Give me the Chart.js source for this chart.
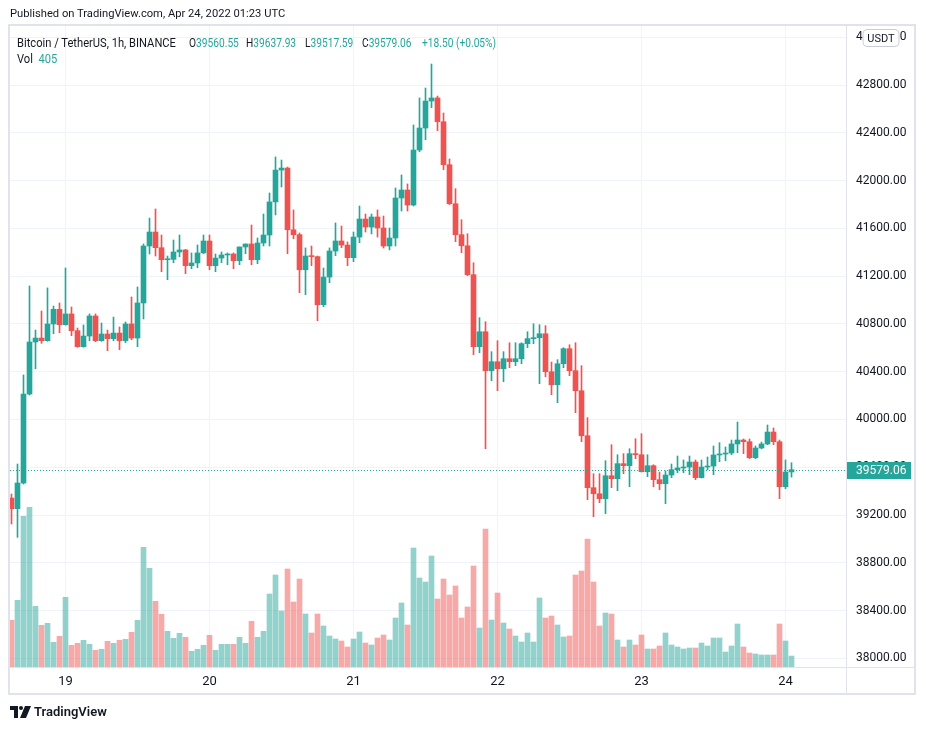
<!DOCTYPE html>
<html><head><meta charset="utf-8">
<script src="https://cdn.jsdelivr.net/npm/chart.js@4.4.0/dist/chart.umd.min.js"></script>
<style>
html,body{margin:0;padding:0;background:#fff;width:926px;height:730px;overflow:hidden;font-family:Roboto,"Liberation Sans",sans-serif;}
canvas{position:absolute;left:0;top:0;}
.t{position:absolute;white-space:nowrap;color:#131722;line-height:1;}
.lg{font-size:12px;transform-origin:0 0;transform:scaleX(0.85);top:37px;}
.g{color:#26a69a;}
</style></head>
<body>
<canvas id="c" width="926" height="730"></canvas>
<div class="t" style="left:10px;top:8px;font-size:11.2px;">Published on TradingView.com, Apr 24, 2022 01:23 UTC</div>
<div class="t lg" style="left:17px;transform:scaleX(0.93);">Bitcoin / TetherUS, 1h, BINANCE</div>
<div class="t lg" id="lo" style="left:189px;"></div>
<div class="t lg" id="lh" style="left:246px;"></div>
<div class="t lg" id="ll" style="left:305px;"></div>
<div class="t lg" id="lc" style="left:362px;"></div>
<div class="t lg g" id="lchg" style="left:422px;"></div>
<div class="t lg" id="lv" style="left:17px;top:53px;transform:scaleX(0.93);"></div>
<div class="t" style="left:10px;top:705px;font-size:13px;font-weight:600;display:flex;align-items:center;">
<svg width="21" height="12" viewBox="0 0 21 12" style="margin-right:3px"><path d="M0 0h8v12H4V4H0z" fill="#131722"/><circle cx="11" cy="2" r="2" fill="#131722"/><path d="M15 0h6l-5 12h-6z" fill="#131722"/></svg>TradingView</div>
<script>
// candle index 0 = Apr 18 15:00 UTC, hourly
const opens = [39342,39253,39468,40213,40649,40682,40660,40800,40923,40794,
40884,40744,40610,40699,40867,40660,40716,40677,40724,40660,
40800,40682,40976,41453,41570,41439,41338,41341,41403,41420,
41288,41311,41395,41495,41288,41352,41378,41386,41330,41445,
41470,41338,41478,41545,41822,42089,42106,41589,41548,41254,
41369,41364,40961,41193,41411,41495,41461,41355,41528,41679,
41612,41696,41604,41453,41520,41855,41922,41796,42257,42441,
42667,42693,42494,42134,41807,41548,41455,41213,40610,40735,
40409,40484,40425,40509,40484,40509,40635,40677,40685,40718,
40400,40291,40467,40593,40409,40241,39864,39429,39378,39337,
39529,39504,39630,39613,39714,39705,39563,39613,39496,39462,
39535,39580,39594,39602,39644,39513,39602,39610,39703,39711,
39719,39795,39828,39814,39680,39761,39795,39895,39814,39437,
39560.55];
const highs = [39376,39627,40373,41118,40749,40909,41102,40950,40976,41269,
40942,40766,40792,40884,40884,40808,40749,40858,40775,40817,
41026,41110,41470,41687,41763,41545,41369,41503,41545,41425,
41395,41462,41545,41545,41386,41403,41395,41395,41445,41470,
41629,41520,41721,41897,42199,42173,42114,41755,41562,41437,
41453,41369,41269,41437,41646,41620,41487,41570,41788,41721,
41721,41755,41704,41604,41939,42048,41973,42467,42693,42776,
42977,42709,42567,42182,41933,41673,41556,41313,40853,40819,
40568,40660,40568,40643,40643,40643,40735,40802,40794,40786,
40481,40501,40601,40626,40643,40451,40015,39546,39546,39655,
39789,39705,39714,39755,39839,39881,39705,39621,39560,39569,
39627,39694,39661,39694,39661,39661,39686,39778,39806,39770,
39828,39979,39837,39837,39778,39811,39954,39929,39828,39661,
39637.93];
const lows = [39125,39013,39460,40205,40425,40638,40655,40718,40727,40790,
40702,40605,40605,40660,40652,40655,40576,40660,40584,40643,
40668,40610,40842,41386,41369,41238,41171,41313,41363,41221,
41263,41271,41390,41254,41238,41313,41296,41263,41296,41389,
41296,41305,41453,41453,41713,41947,41389,41514,41062,41045,
41288,40827,40945,41146,41372,41439,41288,41322,41481,41570,
41554,41528,41436,41420,41453,41746,41746,41788,42243,42343,
42611,42419,42092,41800,41489,41397,41205,40543,40559,39755,
40325,40241,40316,40434,40451,40467,40601,40635,40300,40358,
40208,40141,40434,40367,40057,39814,39328,39186,39303,39211,
39429,39404,39546,39437,39672,39560,39521,39437,39412,39295,
39513,39554,39554,39538,39496,39510,39580,39538,39647,39655,
39705,39722,39714,39672,39672,39755,39789,39789,39337,39420,
39517.59];
const closes = [39253,39468,40213,40649,40682,40660,40800,40923,40794,40884,
40744,40610,40699,40867,40660,40716,40677,40724,40660,40800,
40682,40976,41453,41570,41439,41338,41341,41403,41420,41288,
41311,41395,41495,41288,41352,41378,41386,41330,41445,41470,
41338,41478,41545,41822,42089,42106,41589,41548,41254,41369,
41364,40961,41193,41411,41495,41461,41355,41528,41679,41612,
41696,41604,41453,41520,41855,41922,41796,42257,42441,42667,
42693,42494,42134,41807,41548,41455,41213,40610,40735,40409,
40484,40425,40509,40484,40509,40635,40677,40685,40718,40400,
40291,40467,40593,40409,40241,39864,39429,39378,39337,39529,
39504,39630,39613,39714,39705,39563,39613,39496,39462,39535,
39580,39594,39602,39644,39513,39602,39610,39703,39711,39719,
39795,39828,39814,39680,39761,39795,39895,39814,39437,39560.55,
39579.06];
const volumes = [1728,2468,5576,5909,2246,1543,1617,914,1136,2579,
803,877,988,840,618,655,951,877,988,1025,
1284,1728,4429,3652,2431,1950,1321,1062,1247,1099,
581,655,803,1173,618,840,840,840,1099,877,
1691,1099,1321,2701,3404,2072,3626,2405,3256,1961,
1258,1961,1517,1147,1036,962,740,1036,1295,888,
814,1073,1184,999,1813,2368,1554,4403,3293,3145,
4107,2516,3256,2664,2997,1813,2220,3737,1443,5106,
1739,2738,1628,1406,1147,925,1258,925,2553,1813,
1887,1554,1110,1147,3404,3552,4736,3145,1517,1998,
1961,999,740,999,814,1184,666,666,777,1258,
814,740,666,703,703,888,777,1073,1073,555,
777,1591,740,518,481,444,444,444,1591,962,
405];
const lastChangeText = '+18.50 (+0.05%)';
const dayLabels = ['19','20','21','22','23','24'];
const dayTickIndex = [9,33,57,81,105,129];
const priceTicks = [38000,38400,38800,39200,39600,40000,40400,40800,41200,41600,42000,42400,42800,43200];

const UP = '#26a69a', DOWN = '#ef5350';
const UPV = 'rgba(38,166,154,0.5)', DOWNV = 'rgba(239,83,80,0.5)';
const isUp = i => closes[i] >= opens[i];
const N = closes.length;
const last = N - 1;

// legend text
const fmt = v => v.toFixed(2);
document.getElementById('lo').innerHTML = 'O<span class="g">' + fmt(opens[last]) + '</span>';
document.getElementById('lh').innerHTML = 'H<span class="g">' + fmt(highs[last]) + '</span>';
document.getElementById('ll').innerHTML = 'L<span class="g">' + fmt(lows[last]) + '</span>';
document.getElementById('lc').innerHTML = 'C<span class="g">' + fmt(closes[last]) + '</span>';
document.getElementById('lchg').textContent = lastChangeText;
document.getElementById('lv').innerHTML = 'Vol <span class="g" style="margin-left:3px">' + volumes[last] + '</span>';

const wickData = closes.map((c, i) => ({x: i, y: [lows[i], highs[i]]}));
const bodyData = closes.map((c, i) => ({x: i, y: [opens[i], c]}));
const volData = volumes.map((v, i) => ({x: i, y: v}));

const framePlugin = {
  id: 'frame',
  afterDatasetsDraw(chart) {
    const ctx = chart.ctx, a = chart.chartArea, y = chart.scales.y;
    const py = Math.round(y.getPixelForValue(closes[last])) + 0.5;
    ctx.save();
    ctx.strokeStyle = UP; ctx.lineWidth = 1; ctx.setLineDash([1, 2]);
    ctx.beginPath(); ctx.moveTo(a.left, py); ctx.lineTo(a.right, py); ctx.stroke();
    ctx.restore();
  },
  afterDraw(chart) {
    const ctx = chart.ctx, a = chart.chartArea, y = chart.scales.y;
    ctx.save();
    ctx.strokeStyle = '#e0e3eb';
    ctx.lineWidth = 1;
    ctx.beginPath();
    ctx.moveTo(a.right + 0.5, 25); ctx.lineTo(a.right + 0.5, 694);
    ctx.moveTo(9, a.bottom + 0.5); ctx.lineTo(915, a.bottom + 0.5);
    ctx.stroke();
    ctx.lineWidth = 2;
    ctx.strokeRect(9, 25, 906, 669);
    // price badge
    const py = Math.round(y.getPixelForValue(closes[last]));
    ctx.fillStyle = UP;
    ctx.fillRect(a.right + 1, py - 8, 64, 17);
    ctx.fillStyle = '#ffffff';
    ctx.font = '12px Roboto';
    ctx.textBaseline = 'middle';
    ctx.textAlign = 'left';
    ctx.fillText(fmt(closes[last]), 856, py + 1);
    // USDT badge over the top price label
    const ty = y.getPixelForValue(priceTicks[priceTicks.length - 1]);
    const bx = 863, bw = 36, bh = 17, by = Math.round(ty - bh / 2) + 0.5, r = 4;
    ctx.beginPath();
    ctx.moveTo(bx + r, by); ctx.arcTo(bx + bw, by, bx + bw, by + bh, r);
    ctx.arcTo(bx + bw, by + bh, bx, by + bh, r); ctx.arcTo(bx, by + bh, bx, by, r);
    ctx.arcTo(bx, by, bx + bw, by, r); ctx.closePath();
    ctx.fillStyle = '#ffffff'; ctx.fill();
    ctx.strokeStyle = '#c9ccd4'; ctx.lineWidth = 1; ctx.stroke();
    ctx.fillStyle = '#131722'; ctx.font = '11px Roboto'; ctx.textAlign = 'center';
    ctx.fillText('USDT', bx + bw / 2, by + bh / 2 + 1);
    ctx.restore();
  }
};

new Chart(document.getElementById('c'), {
  type: 'bar',
  data: {
    datasets: [
      { data: volData, yAxisID: 'v', order: 3, barThickness: 5, grouped: false,
        backgroundColor: c => isUp(c.dataIndex) ? UPV : DOWNV, borderWidth: 0 },
      { data: wickData, yAxisID: 'y', order: 2, barThickness: 1, grouped: false,
        backgroundColor: c => isUp(c.dataIndex) ? UP : DOWN, borderWidth: 0 },
      { data: bodyData, yAxisID: 'y', order: 1, barThickness: 5, grouped: false, minBarLength: 1,
        backgroundColor: c => isUp(c.dataIndex) ? UP : DOWN, borderWidth: 0 }
    ]
  },
  options: {
    responsive: false,
    animation: false,
    devicePixelRatio: 1,
    layout: { padding: { left: 10, top: 25, right: 11, bottom: 36 } },
    plugins: { legend: { display: false }, tooltip: { enabled: false } },
    scales: {
      x: {
        type: 'linear', offset: false,
        min: -0.25, max: -0.25 + 836 / 6,
        grid: { color: '#f0f3fa', drawTicks: false, offset: false },
        border: { display: false },
        afterBuildTicks: s => { s.ticks = dayTickIndex.map(v => ({ value: v })); },
        afterFit: s => { s.height = 27; },
        ticks: { autoSkip: false, maxRotation: 0, padding: 7, color: '#131722',
          font: { family: 'Roboto', size: 13 },
          callback: (v, i) => dayLabels[i] }
      },
      y: {
        type: 'linear', position: 'right', beginAtZero: false,
        min: 38000 - (667 - 658.3) * 8.375, max: 38000 + (658.3 - 25) * 8.375,
        grid: { color: '#f0f3fa', drawTicks: false },
        border: { display: false },
        afterBuildTicks: s => { s.ticks = priceTicks.map(v => ({ value: v })); },
        afterFit: s => { s.width = 69; },
        ticks: { autoSkip: false, padding: 10, color: '#131722',
          font: { family: 'Roboto', size: 12 },
          callback: v => Number(v).toFixed(2) }
      },
      v: {
        type: 'linear', display: false, min: 0, max: 642 * 37,
        grid: { display: false }
      }
    }
  },
  plugins: [framePlugin]
});
</script>
</body></html>
